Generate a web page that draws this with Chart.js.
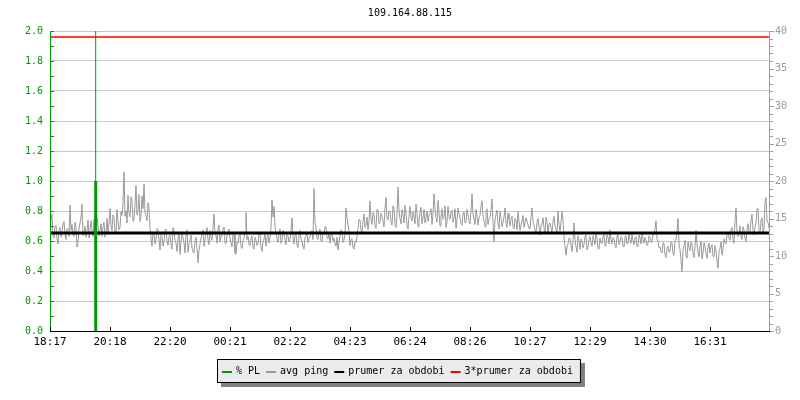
<!DOCTYPE html>
<html>
<head>
<meta charset="utf-8">
<script src="https://cdn.jsdelivr.net/npm/chart.js@4/dist/chart.umd.min.js"></script>
<style>
  html, body { margin: 0; padding: 0; background: #fff; }
  #wrap { width: 800px; height: 400px; }
</style>
</head>
<body>
<div id="wrap"><canvas id="graf" width="800" height="400"></canvas></div>
<script>
const titulek = '109.164.88.115';

// casove popisky osy x (kazdy 60. vzorek)
const timeLabels = ['18:17', '20:18', '22:20', '00:21', '02:22', '04:23', '06:24', '08:26', '10:27', '12:29', '14:30', '16:31'];
const labelStep = 60;

// avg ping [ms], jeden vzorek na index
const avgPing = [
  13.2, 14.8, 15.6, 12.7, 12.4, 13.9, 14.1, 12.3, 11.6, 13.4, 13.8, 12.5, 12.9, 14.3, 14.6, 12.8, 12.2, 13.7, 13.5, 12.6,
  16.8, 13.4, 14.2, 12.9, 12.6, 14.5, 13.9, 11.2, 11.8, 13.6, 14.4, 15.2, 16.9, 12.7, 13.1, 14.0, 12.5, 13.3, 14.8, 12.4,
  13.3, 14.7, 13.6, 12.6, 14.9, 13.0, 12.8, 15.1, 14.2, 12.7, 13.4, 14.3, 12.6, 13.9, 14.5, 12.5, 13.1, 15.0, 12.9, 14.4,
  16.3, 14.1, 13.4, 15.5, 15.1, 13.2, 12.9, 16.2, 14.6, 13.5, 13.8, 15.9, 15.4, 17.1, 21.2, 15.3, 16.0, 14.4, 18.1, 15.7,
  15.2, 17.9, 17.4, 14.6, 14.9, 16.8, 19.4, 15.5, 16.1, 18.2, 14.6, 15.4, 18.0, 16.3, 19.6, 15.8, 15.3, 14.7, 17.1, 16.4,
  13.8, 12.4, 11.3, 13.1, 12.9, 11.6, 12.1, 13.7, 13.5, 12.2, 10.8, 12.9, 12.7, 11.3, 11.9, 13.4, 13.6, 12.0, 11.4, 12.6,
  12.8, 11.5, 10.9, 13.8, 13.3, 12.1, 11.7, 10.6, 12.4, 13.2, 10.2, 11.9, 13.1, 12.5, 11.8, 10.4, 12.6, 13.5, 10.5, 11.7,
  12.0, 12.8, 11.1, 10.6, 10.4, 11.9, 12.5, 11.0, 9.1, 10.7, 11.6, 12.4, 12.9, 13.5, 11.3, 12.1, 13.2, 13.8, 12.2, 11.5,
  13.4, 12.6, 12.1, 13.8, 15.6, 12.9, 12.8, 11.7, 13.7, 14.1, 11.9, 12.7, 12.6, 13.5, 13.9, 11.8, 11.6, 12.8, 12.9, 13.6,
  12.3, 11.8, 11.2, 12.9, 12.8, 10.4, 10.2, 11.9, 11.7, 12.7, 12.9, 11.3, 11.0, 12.1, 12.4, 13.2, 15.8, 12.2, 12.6, 11.5,
  11.4, 12.3, 12.7, 11.1, 10.9, 12.5, 12.1, 11.4, 11.6, 12.9, 13.0, 11.2, 10.6, 11.9, 12.2, 13.1, 11.3, 12.4, 12.8, 11.7,
  12.4, 13.8, 17.5, 15.2, 16.6, 13.9, 13.2, 12.3, 11.8, 12.9, 13.6, 11.7, 12.1, 13.4, 13.0, 12.2, 11.5, 12.8, 12.7, 11.9,
  12.2, 13.3, 15.1, 12.4, 11.6, 12.8, 12.9, 11.4, 11.1, 12.7, 13.4, 12.3, 12.0, 11.2, 10.9, 12.5, 12.6, 13.2, 11.8, 12.4,
  12.5, 13.1, 13.4, 12.2, 19.0, 14.6, 13.8, 12.4, 12.2, 13.3, 13.6, 12.0, 11.9, 13.2, 12.8, 13.9, 13.9, 12.6, 12.3, 13.1,
  11.7, 12.8, 13.1, 12.0, 12.4, 11.6, 11.3, 12.5, 10.8, 11.9, 12.7, 13.5, 13.3, 11.8, 12.1, 13.0, 16.4, 15.1, 14.2, 13.4,
  11.4, 12.2, 12.3, 11.1, 10.9, 12.0, 11.8, 12.6, 13.6, 14.9, 14.8, 13.4, 13.2, 14.6, 15.6, 13.8, 14.1, 15.2, 13.5, 14.7,
  17.3, 14.9, 14.2, 15.8, 15.6, 14.0, 13.7, 16.2, 16.1, 14.3, 14.5, 15.7, 15.3, 14.6, 13.9, 16.4, 17.8, 15.0, 14.8, 16.0,
  15.9, 14.5, 14.1, 16.7, 16.4, 14.2, 13.8, 15.6, 19.2, 16.1, 15.0, 14.3, 16.2, 15.5, 14.4, 16.8, 15.7, 14.1, 13.6, 15.3,
  16.6, 15.2, 14.7, 15.9, 15.4, 14.3, 16.9, 15.6, 13.9, 14.8, 15.8, 16.5, 14.3, 15.0, 16.2, 14.4, 15.1, 16.0, 14.6, 15.4,
  15.7, 16.3, 14.2, 15.6, 18.3, 16.4, 15.1, 14.5, 17.4, 15.9, 14.0, 15.2, 16.3, 14.9, 15.2, 16.7, 13.8, 14.6, 16.6, 15.3,
  14.9, 15.8, 16.1, 14.5, 15.0, 16.3, 13.7, 14.8, 16.4, 15.6, 15.2, 14.3, 14.1, 15.7, 15.9, 14.4, 14.6, 16.2, 15.5, 14.7,
  14.3, 16.0, 18.3, 15.6, 15.0, 14.2, 16.2, 15.4, 14.1, 15.1, 15.4, 16.6, 17.4, 15.3, 14.7, 13.9, 15.8, 16.3, 14.2, 15.0,
  15.1, 16.2, 17.6, 14.3, 11.9, 14.8, 15.5, 16.1, 14.3, 13.6, 16.0, 15.1, 13.9, 14.5, 15.2, 16.4, 14.4, 13.8, 15.7, 14.9,
  14.0, 14.9, 15.3, 13.9, 13.6, 15.0, 14.8, 13.5, 15.9, 14.6, 13.4, 14.1, 14.6, 15.4, 13.8, 14.4, 15.1, 14.7, 14.2, 13.7,
  13.6, 15.3, 16.4, 14.6, 14.1, 13.5, 13.2, 14.4, 15.0, 13.9, 12.8, 14.0, 14.3, 15.1, 13.7, 12.9, 15.2, 14.6, 13.0, 14.2,
  14.4, 13.8, 13.1, 14.6, 15.3, 14.0, 13.6, 12.9, 16.0, 14.2, 13.3, 14.5, 15.9, 14.8, 12.6, 11.4, 10.1, 11.2, 11.6, 12.4,
  12.3, 11.4, 10.6, 12.1, 14.4, 12.2, 11.2, 10.5, 12.7, 11.9, 10.9, 12.3, 12.0, 11.1, 11.5, 12.6, 12.8, 10.8, 11.1, 12.2,
  12.6, 11.8, 11.3, 12.7, 12.2, 11.5, 13.1, 12.4, 11.0, 10.9, 12.4, 11.7, 11.7, 12.6, 12.9, 11.3, 11.4, 12.8, 12.5, 11.6,
  13.5, 12.2, 11.6, 12.5, 12.3, 11.4, 11.1, 12.7, 12.8, 11.5, 11.9, 12.6, 12.4, 11.3, 11.2, 12.5, 12.7, 11.6, 11.8, 12.9,
  12.2, 11.7, 12.9, 12.1, 11.5, 12.4, 12.6, 11.2, 11.3, 12.8, 12.4, 11.6, 13.0, 12.3, 11.7, 12.5, 12.1, 11.4, 11.6, 12.7,
  12.5, 11.8, 11.9, 12.9, 12.8, 13.6, 14.7, 12.3, 12.0, 11.1, 11.2, 10.6, 10.4, 11.8, 11.7, 10.2, 9.8, 11.0, 11.3, 10.5,
  10.6, 11.9, 11.8, 10.4, 10.1, 12.0, 12.2, 13.3, 15.0, 11.6, 10.9, 9.4, 7.9, 10.8, 11.4, 12.1, 10.2, 9.7, 11.9, 11.2,
  10.7, 11.9, 11.6, 10.3, 9.8, 11.2, 13.4, 11.6, 10.5, 9.9, 11.2, 12.0, 9.6, 10.4, 11.8, 11.3, 10.3, 9.7, 11.1, 11.7,
  10.4, 11.2, 11.5, 10.0, 9.9, 11.4, 10.8, 9.3, 8.4, 10.6, 11.0, 11.9, 10.1, 10.9, 12.3, 11.8, 11.6, 12.9, 13.2, 12.4,
  12.1, 13.5, 13.8, 12.2, 11.7, 14.6, 16.4, 13.3, 12.6, 13.1, 14.0, 12.5, 12.2, 13.9, 13.5, 12.4, 11.9, 13.6, 14.3, 13.2,
  13.1, 14.8, 15.6, 13.5, 12.8, 13.9, 14.4, 16.3, 16.3, 13.4, 12.9, 14.7, 15.1, 13.2, 13.6, 17.2, 17.8, 14.6, 14.5, 13.8,
  13.0
];

// % PL - jediny vypadek
const plIndex = [45.7, 45.7, 45.7];
const plValues = [0, 1.0, 2.5];

const prumer = 13.07;        // ms
const prumer3 = 39.2;        // ms

const pingData = avgPing.map((v, i) => ({ x: i, y: v }));
const plData = plIndex.map((x, i) => ({ x: x, y: plValues[i] }));
const posledni = avgPing.length - 1;

const FONT = '"DejaVu Sans Mono", "Liberation Mono", monospace';

const kresleni = {
  id: 'kresleni',
  afterDatasetsDraw(chart) {
    const c = chart.ctx;
    const a = chart.chartArea;
    const sx = chart.scales.x, sy = chart.scales.y, sy1 = chart.scales.y1;
    c.save();
    c.lineWidth = 1;

    // leva osa (zelena) + drobne znacky
    c.strokeStyle = '#009900';
    c.beginPath();
    c.moveTo(a.left + 0.5, a.top);
    c.lineTo(a.left + 0.5, a.bottom);
    for (let v = 0; v <= 20; v++) {
      const y = Math.round(sy.getPixelForValue(v / 10)) + 0.5;
      c.moveTo(a.left, y);
      c.lineTo(a.left + 4, y);
    }
    c.stroke();

    // prava osa (seda)
    c.strokeStyle = '#a0a0a0';
    c.beginPath();
    c.moveTo(a.right - 0.5, a.top);
    c.lineTo(a.right - 0.5, a.bottom);
    for (let v = 0; v <= 40; v++) {
      const y = Math.round(sy1.getPixelForValue(v)) + 0.5;
      c.moveTo(a.right, y);
      c.lineTo(a.right + (v % 5 === 0 ? 4 : 3), y);
    }
    c.stroke();

    // spodni osa (cerna)
    c.strokeStyle = '#000';
    c.beginPath();
    c.moveTo(a.left, a.bottom + 0.5);
    c.lineTo(a.right, a.bottom + 0.5);
    for (let i = 0; i < timeLabels.length; i++) {
      const x = Math.round(sx.getPixelForValue(i * labelStep)) + 0.5;
      c.moveTo(x, a.bottom);
      c.lineTo(x, a.bottom - 4);
    }
    c.stroke();
    c.restore();
  },
  afterDraw(chart) {
    const c = chart.ctx;
    const a = chart.chartArea;
    c.save();

    // titulek
    c.fillStyle = '#000';
    c.font = '10px ' + FONT;
    c.textAlign = 'center';
    c.textBaseline = 'middle';
    c.fillText(titulek, (a.left + a.right) / 2, 13);

    // legenda s ramem a stinem
    const items = chart.data.datasets.map(d => ({ label: d.label, color: d.borderColor }));
    const sw = 10, gap = 4, mezera = 6, padL = 5, padR = 8;
    c.font = '10px ' + FONT;
    let total = padL + padR;
    items.forEach((it, i) => {
      it.w = c.measureText(it.label).width;
      total += sw + gap + it.w + (i > 0 ? mezera : 0);
    });
    const bx = Math.round(399 - total / 2), by = 359, bh = 24;
    c.fillStyle = '#808080';
    c.fillRect(bx + 4, by + 4, total, bh);
    c.fillStyle = '#ebebeb';
    c.fillRect(bx, by, total, bh);
    c.strokeStyle = '#000';
    c.lineWidth = 1;
    c.strokeRect(bx + 0.5, by + 0.5, total - 1, bh - 1);

    let x = bx + padL;
    const cy = by + bh / 2;
    c.textAlign = 'left';
    items.forEach((it, i) => {
      if (i > 0) x += mezera;
      c.strokeStyle = it.color;
      c.lineWidth = 2;
      c.beginPath();
      c.moveTo(x, cy + 1);
      c.lineTo(x + sw, cy + 1);
      c.stroke();
      x += sw + gap;
      c.fillStyle = '#000';
      c.fillText(it.label, x, cy);
      x += it.w;
    });
    c.restore();
  }
};

new Chart(document.getElementById('graf'), {
  type: 'line',
  data: {
    datasets: [
      {
        label: '% PL',
        data: plData,
        yAxisID: 'y',
        borderColor: '#009900',
        borderWidth: 3,
        segment: { borderWidth: ctx => ctx.p0DataIndex === 0 ? 3 : 1 },
        pointRadius: 0,
        order: 0
      },
      {
        label: 'avg ping',
        data: pingData,
        yAxisID: 'y1',
        borderColor: '#999999',
        borderWidth: 1,
        pointRadius: 0,
        tension: 0,
        order: 3
      },
      {
        label: 'prumer za obdobi',
        data: [{ x: 0, y: prumer }, { x: posledni, y: prumer }],
        yAxisID: 'y1',
        borderColor: '#000000',
        borderWidth: 3,
        pointRadius: 0,
        order: 1
      },
      {
        label: '3*prumer za obdobi',
        data: [{ x: 0, y: prumer3 }, { x: posledni, y: prumer3 }],
        yAxisID: 'y1',
        borderColor: '#ff0000',
        borderWidth: 1.5,
        pointRadius: 0,
        order: 2
      }
    ]
  },
  options: {
    responsive: false,
    animation: false,
    devicePixelRatio: 1,
    layout: { padding: { top: 31, left: 0, right: 0, bottom: 0 } },
    plugins: {
      legend: { display: false },
      title: { display: false },
      tooltip: { enabled: false }
    },
    scales: {
      x: {
        type: 'linear',
        min: 0,
        max: posledni,
        grid: { display: false, drawTicks: false },
        border: { display: false },
        afterFit: s => { s.height = 69; },
        ticks: {
          stepSize: labelStep,
          autoSkip: false,
          maxRotation: 0,
          padding: 5,
          color: '#000',
          font: { family: FONT, size: 11 },
          callback: v => timeLabels[v / labelStep] || ''
        }
      },
      y: {
        position: 'left',
        min: 0,
        max: 2,
        grid: { color: '#c8c8c8', lineWidth: 1, drawTicks: false },
        border: { display: false },
        afterFit: s => { s.width = 50; },
        ticks: {
          stepSize: 0.2,
          padding: 7,
          color: '#009900',
          font: { family: FONT, size: 10 },
          callback: v => v.toFixed(1)
        }
      },
      y1: {
        position: 'right',
        min: 0,
        max: 40,
        grid: { display: false, drawTicks: false },
        border: { display: false },
        afterFit: s => { s.width = 30; },
        ticks: {
          stepSize: 5,
          padding: 5,
          color: '#999999',
          font: { family: FONT, size: 10 }
        }
      }
    }
  },
  plugins: [kresleni]
});
</script>
</body>
</html>
